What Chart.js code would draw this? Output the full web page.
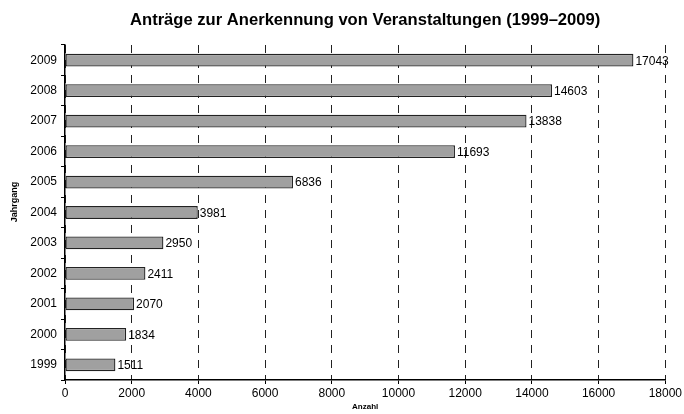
<!DOCTYPE html>
<html><head><meta charset="utf-8">
<script src="https://cdn.jsdelivr.net/npm/chart.js@4/dist/chart.umd.min.js"></script>
<style>html,body{margin:0;padding:0;background:#fff}#wrap{width:684px;height:414px}</style>
</head><body><div id="wrap"><canvas id="c" width="684" height="414"></canvas></div>
<script>
const titleText = 'Anträge zur Anerkennung von Veranstaltungen (1999–2009)';
const years = ['1999','2000','2001','2002','2003','2004','2005','2006','2007','2008','2009'];
const counts = [1511, 1834, 2070, 2411, 2950, 3981, 6836, 11693, 13838, 14603, 17043];
const xTicks = [0, 2000, 4000, 6000, 8000, 10000, 12000, 14000, 16000, 18000];
const xTitle = 'Anzahl';
const yTitle = 'Jahrgang';
const FONT = 'Liberation Sans, Arial, sans-serif';

const extraText = {
  id: 'extraText',
  afterDraw(chart) {
    const ctx = chart.ctx, a = chart.chartArea;
    ctx.save();
    ctx.font = 'bold 16.6px ' + FONT;
    ctx.fillStyle = '#000';
    ctx.textAlign = 'center';
    ctx.textBaseline = 'alphabetic';
    ctx.fillText(titleText, (a.left + a.right) / 2, 25);
    ctx.translate(14.5, 202);
    ctx.rotate(-Math.PI / 2);
    ctx.font = 'bold 9px ' + FONT;
    ctx.textBaseline = 'middle';
    ctx.fillText(yTitle, 0, 0);
    ctx.restore();
  }
};
const valueLabels = {
  id: 'valueLabels',
  afterDatasetsDraw(chart) {
    const ctx = chart.ctx;
    const meta = chart.getDatasetMeta(0);
    ctx.save();
    ctx.font = '12px ' + FONT;
    ctx.fillStyle = '#000';
    ctx.textAlign = 'left';
    ctx.textBaseline = 'middle';
    meta.data.forEach((bar, i) => {
      ctx.fillText(String(counts[i]), bar.x + 2, bar.y + 1);
    });
    ctx.restore();
  }
};

new Chart(document.getElementById('c'), {
  type: 'bar',
  data: {
    labels: years,
    datasets: [{
      data: counts,
      backgroundColor: '#a0a0a0',
      borderColor: '#222',
      borderWidth: 1.3,
      borderSkipped: false,
      barPercentage: 0.42,
      categoryPercentage: 1
    }]
  },
  options: {
    indexAxis: 'y',
    responsive: false,
    animation: false,
    devicePixelRatio: 1,
    layout: { padding: { top: 45, right: 16, bottom: 0, left: 0 } },
    plugins: { legend: { display: false }, title: { display: false }, tooltip: { enabled: false } },
    scales: {
      x: {
        min: 0, max: 18000,
        afterBuildTicks(scale) { scale.ticks = xTicks.map(v => ({ value: v })); },
        grid: {
          color: '#222', lineWidth: 1, drawTicks: true, tickLength: 4, tickColor: '#000'
        },
        border: { display: true, color: '#000', width: 1.5, dash: [8, 7] },
        ticks: {
          color: '#000', font: { family: FONT, size: 12 }, padding: 2, maxRotation: 0,
          callback: (v) => String(v)
        },
        title: { display: true, text: xTitle, color: '#000', font: { family: FONT, size: 8, weight: 'bold' }, padding: { top: 2, bottom: 2 } },
        afterFit(scale) { scale.height = 34; }
      },
      y: {
        reverse: true,
        border: { color: '#000', width: 1.5 },
        grid: { drawOnChartArea: false, drawTicks: true, tickLength: 4, tickColor: '#000', offset: true },
        ticks: { color: '#000', font: { family: FONT, size: 12 }, padding: 4 },
        title: { display: false },
        afterFit(scale) { scale.width = 65; }
      }
    }
  },
  plugins: [extraText, valueLabels]
});
</script>
</body></html>
